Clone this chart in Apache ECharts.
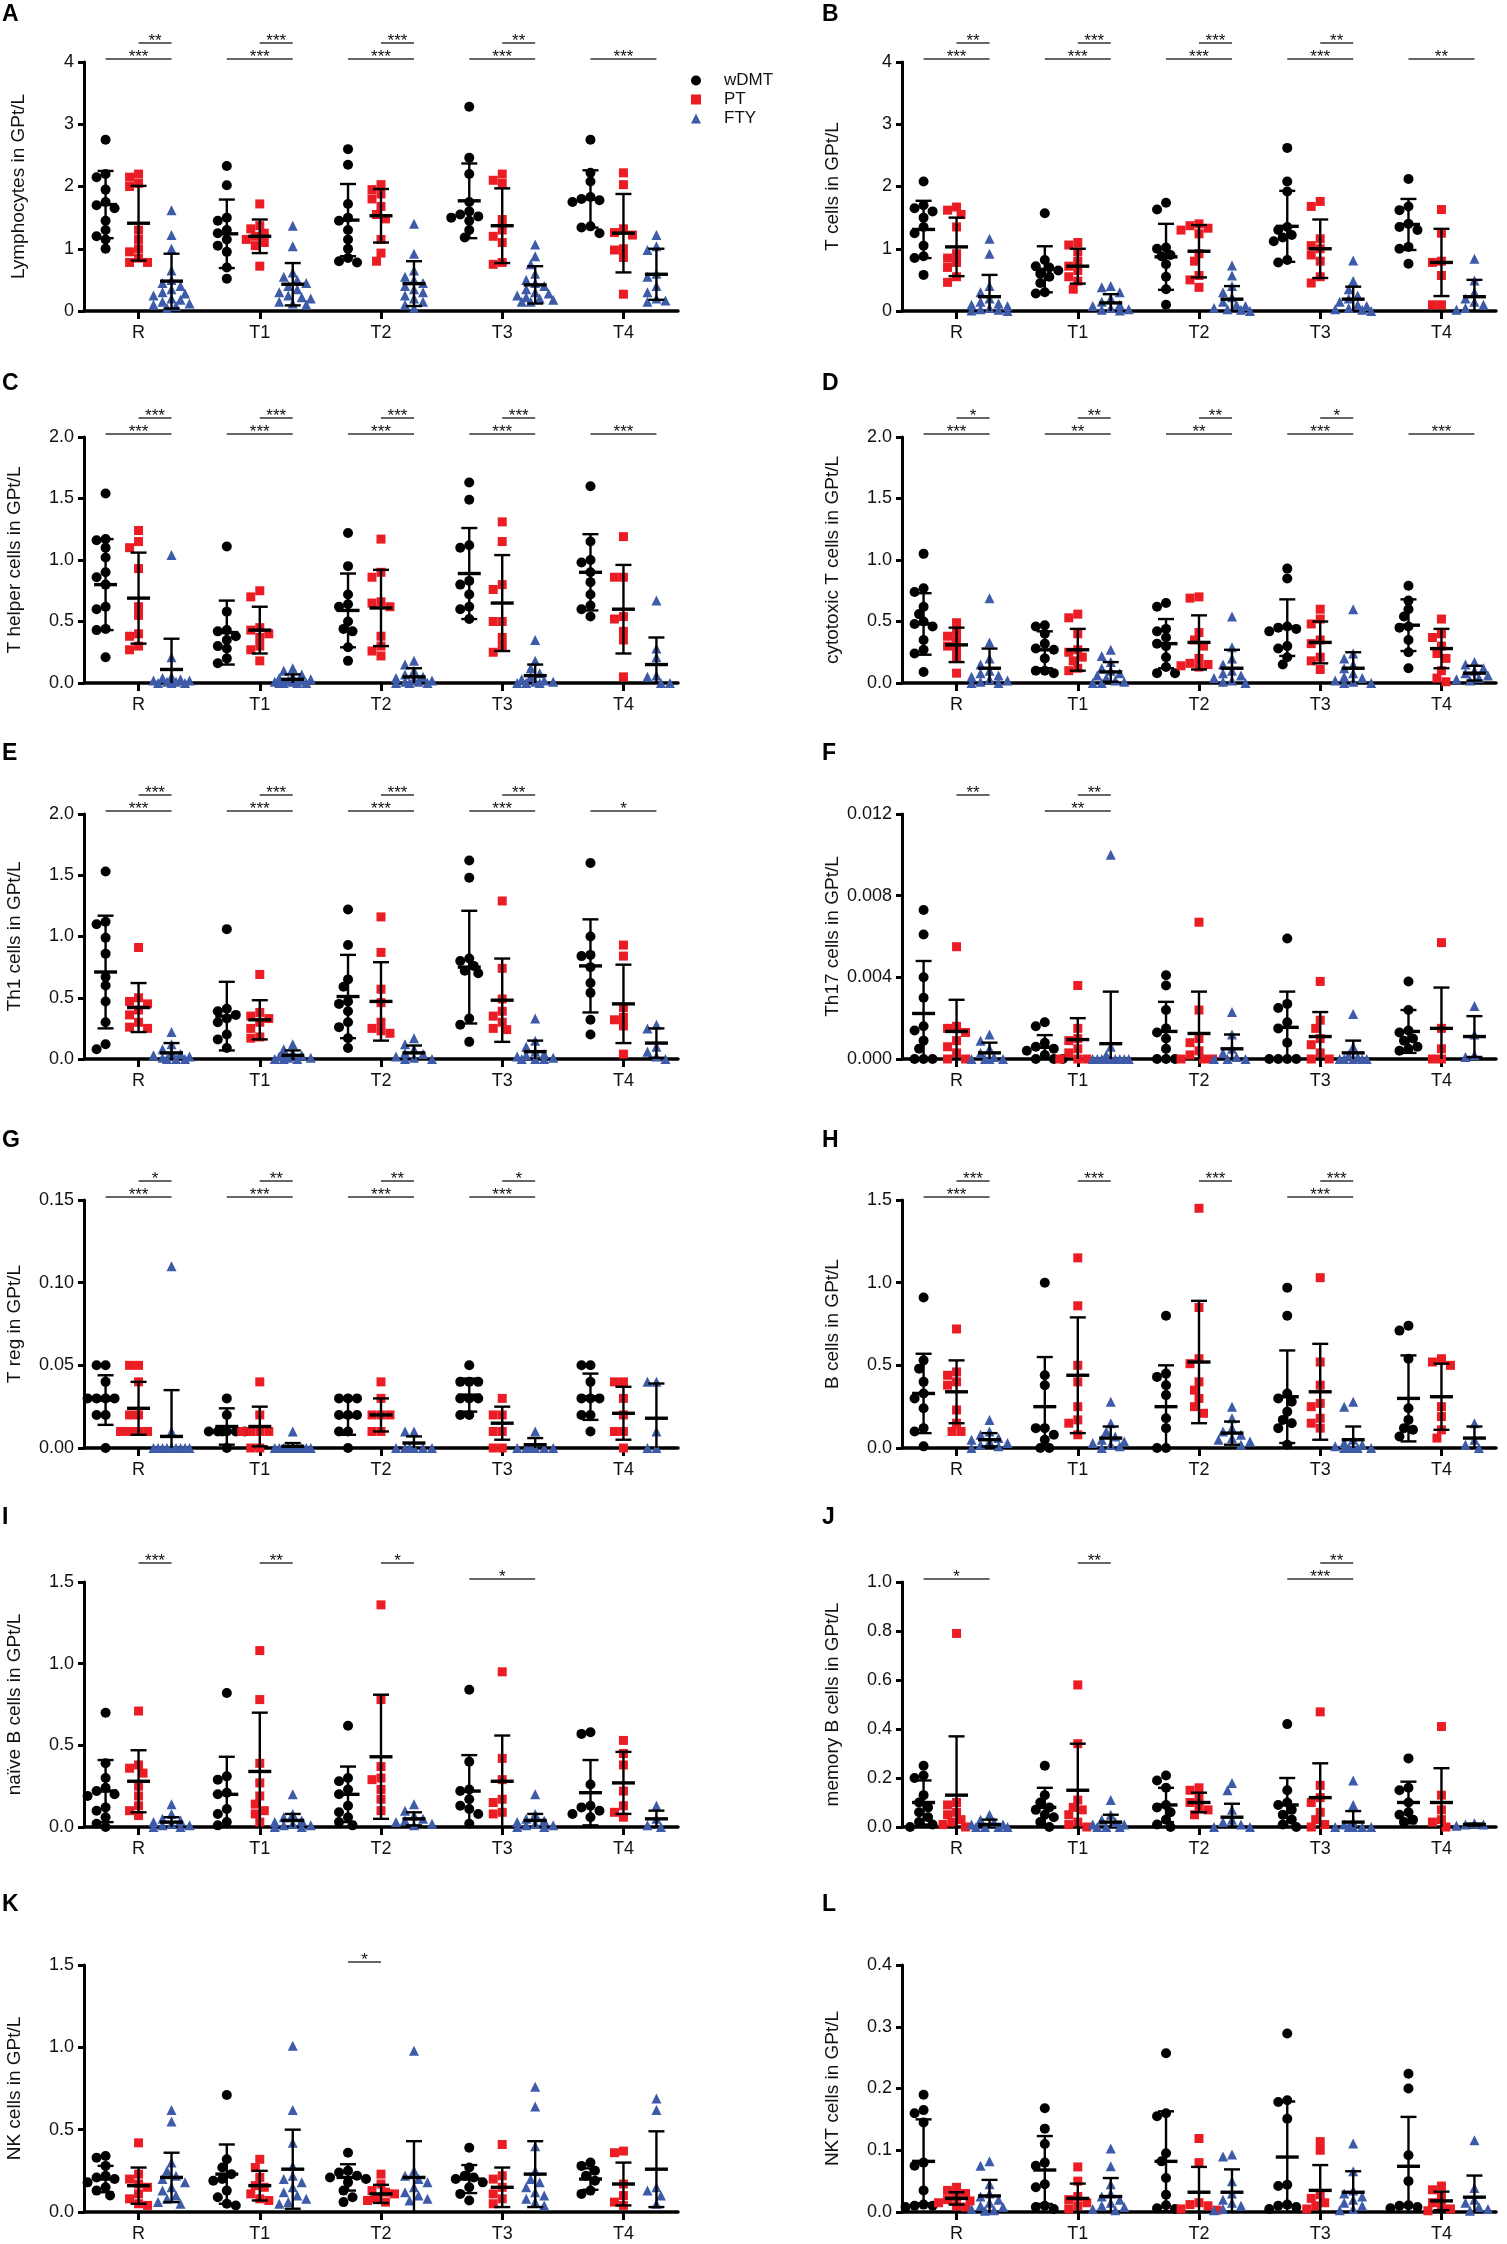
<!DOCTYPE html>
<html lang="en">
<head>
<meta charset="UTF-8">
<title>Lymphocyte subsets</title>
<script src="https://cdn.jsdelivr.net/npm/echarts@6/dist/echarts.min.js"></script>
<style>
  html, body { margin: 0; padding: 0; background: #fff; }
  #chart { width: 1507px; height: 2244px; }
</style>
</head>
<body>
<div id="chart"></div>
<script>
var categories = ['R', 'T1', 'T2', 'T3', 'T4'];
var groups = ['wDMT', 'PT', 'FTY'];

// points per panel: [group][category] -> values
// sig rows: [category, fromGroup, toGroup, level(0 low / 1 high), stars]
var ptsA = [
  [[2.75,2.2,2.15,1.95,1.75,1.7,1.65,1.45,1.3,1.2,1.15,1.0],[2.33,2.02,1.5,1.45,1.3,1.25,1.15,1.05,0.95,0.7,0.52],[2.6,2.35,1.72,1.5,1.45,1.3,1.15,1.0,0.85,0.8,0.78],[3.28,2.46,2.2,1.75,1.6,1.55,1.52,1.5,1.45,1.3,1.18],[2.75,2.22,2.08,1.83,1.8,1.78,1.75,1.36,1.34,1.25]],
  [[2.2,2.15,2.05,2.0,1.3,1.15,1.0,0.95,0.85,0.78,0.78],[1.72,1.37,1.32,1.25,1.2,1.15,1.1,1.05,0.72],[2.03,1.95,1.88,1.8,1.68,1.55,1.48,1.15,0.93,0.8],[2.2,2.1,2.05,1.47,1.3,1.2,1.1,0.78,0.75],[2.22,2.03,1.32,1.26,1.22,1.0,0.98,0.86,0.27]],
  [[1.62,1.22,1.0,0.65,0.5,0.45,0.4,0.35,0.3,0.28,0.25,0.2,0.18,0.15,0.12,0.1,0.08,0.05],[1.37,1.04,0.62,0.55,0.5,0.45,0.4,0.35,0.3,0.25,0.22,0.2,0.15,0.12,0.1],[1.4,0.92,0.65,0.55,0.5,0.45,0.4,0.35,0.3,0.25,0.2,0.15,0.1,0.05],[1.07,0.88,0.75,0.6,0.5,0.45,0.4,0.35,0.3,0.28,0.25,0.22,0.2,0.18,0.15,0.15],[1.22,1.04,0.98,0.6,0.55,0.4,0.3,0.2,0.17,0.15]]
];
var meanA = [[1.71,1.24,1.46,1.77,1.8],[1.41,1.2,1.53,1.37,1.25],[0.48,0.43,0.44,0.42,0.59]];
var sdA = [[0.54,0.55,0.58,0.6,0.46],[0.6,0.27,0.43,0.6,0.63],[0.44,0.34,0.36,0.3,0.41]];
var sigA = [[0,0,2,0,'***'],[0,1,2,1,'**'],[1,0,2,0,'***'],[1,1,2,1,'***'],[2,0,2,0,'***'],[2,1,2,1,'***'],[3,0,2,0,'***'],[3,1,2,1,'**'],[4,0,2,0,'***']];

var ptsB = [
  [[2.08,1.7,1.65,1.6,1.5,1.35,1.25,1.05,0.88,0.85,0.58],[1.57,0.82,0.72,0.7,0.65,0.6,0.55,0.45,0.3,0.28],[1.74,1.63,1.02,1.0,0.9,0.88,0.75,0.55,0.35,0.1],[2.62,2.08,1.92,1.35,1.3,1.22,1.18,1.12,0.82,0.78],[2.12,1.68,1.62,1.4,1.35,1.3,1.03,1.0,0.76]],
  [[1.67,1.62,1.55,1.35,0.92,0.85,0.78,0.7,0.55,0.46],[1.1,1.06,0.95,0.8,0.72,0.65,0.55,0.48,0.35],[1.4,1.37,1.33,1.3,1.24,0.92,0.8,0.57,0.5,0.38],[1.76,1.68,1.16,1.05,1.0,0.9,0.8,0.55,0.45],[1.63,1.25,0.8,0.78,0.57,0.1,0.1]],
  [[1.16,0.92,0.4,0.3,0.2,0.15,0.12,0.1,0.08,0.05,0.03,0.02,0.01,0.0],[0.4,0.38,0.3,0.2,0.15,0.1,0.08,0.05,0.03,0.02,0.01],[0.73,0.57,0.4,0.3,0.22,0.15,0.1,0.08,0.05,0.03,0.02,0.0],[0.81,0.48,0.35,0.25,0.2,0.15,0.1,0.08,0.05,0.03,0.02,0.0],[0.84,0.49,0.3,0.2,0.15,0.1,0.05,0.02]]
];
var meanB = [[1.31,0.67,0.87,1.36,1.39],[1.03,0.72,0.96,1.0,0.78],[0.23,0.13,0.19,0.19,0.23]];
var sdB = [[0.46,0.37,0.53,0.57,0.41],[0.47,0.28,0.42,0.47,0.54],[0.35,0.14,0.21,0.2,0.27]];
var sigB = [[0,0,2,0,'***'],[0,1,2,1,'**'],[1,0,2,0,'***'],[1,1,2,1,'***'],[2,0,2,0,'***'],[2,1,2,1,'***'],[3,0,2,0,'***'],[3,1,2,1,'**'],[4,0,2,0,'**']];

var ptsC = [
  [[1.54,1.17,1.16,1.1,1.02,0.9,0.86,0.8,0.62,0.6,0.44,0.43,0.21],[1.11,0.58,0.43,0.42,0.38,0.35,0.3,0.28,0.2,0.16],[1.22,0.95,0.72,0.64,0.62,0.5,0.44,0.42,0.29,0.18],[1.63,1.49,1.12,1.1,0.83,0.8,0.72,0.62,0.6,0.52],[1.6,1.15,1.0,0.98,0.9,0.82,0.72,0.63,0.6,0.54]],
  [[1.24,1.15,1.1,0.93,0.62,0.55,0.4,0.38,0.3,0.27],[0.75,0.7,0.45,0.43,0.4,0.37,0.3,0.27,0.18],[1.17,0.9,0.86,0.66,0.65,0.62,0.38,0.3,0.26,0.22],[1.31,1.15,0.8,0.76,0.5,0.5,0.37,0.3,0.25],[1.19,0.86,0.86,0.54,0.52,0.42,0.35,0.05]],
  [[1.04,0.21,0.05,0.04,0.03,0.02,0.02,0.01,0.01,0,0,0],[0.12,0.1,0.07,0.05,0.04,0.03,0.02,0.02,0.01,0.01,0,0,0,0],[0.18,0.15,0.1,0.07,0.05,0.04,0.03,0.02,0.01,0.01,0,0,0],[0.35,0.18,0.12,0.08,0.05,0.03,0.02,0.01,0.01,0,0,0],[0.67,0.28,0.21,0.06,0.05,0,0]]
];
var meanC = [[0.8,0.41,0.59,0.89,0.9],[0.69,0.43,0.61,0.65,0.6],[0.11,0.03,0.05,0.06,0.15]];
var sdC = [[0.37,0.26,0.3,0.37,0.31],[0.37,0.19,0.31,0.39,0.36],[0.25,0.04,0.07,0.09,0.22]];
var sigC = [[0,0,2,0,'***'],[0,1,2,1,'***'],[1,0,2,0,'***'],[1,1,2,1,'***'],[2,0,2,0,'***'],[2,1,2,1,'***'],[3,0,2,0,'***'],[3,1,2,1,'***'],[4,0,2,0,'***']];

var ptsD = [
  [[1.05,0.77,0.74,0.62,0.56,0.5,0.48,0.46,0.35,0.27,0.24,0.09],[0.47,0.46,0.4,0.32,0.28,0.27,0.2,0.1,0.1,0.08],[0.65,0.62,0.44,0.42,0.37,0.32,0.3,0.21,0.13,0.08,0.08],[0.93,0.85,0.46,0.45,0.44,0.42,0.3,0.28,0.21,0.15],[0.79,0.67,0.6,0.54,0.46,0.45,0.35,0.25,0.12]],
  [[0.49,0.42,0.38,0.35,0.3,0.27,0.2,0.08],[0.56,0.53,0.4,0.27,0.25,0.21,0.18,0.12,0.1],[0.7,0.69,0.41,0.35,0.3,0.2,0.16,0.15,0.14,0.13],[0.6,0.52,0.48,0.35,0.32,0.21,0.18,0.11],[0.52,0.4,0.37,0.3,0.24,0.2,0.1,0.04,0.01]],
  [[0.69,0.33,0.2,0.15,0.1,0.08,0.06,0.05,0.03,0.02,0.01,0,0],[0.27,0.22,0.17,0.12,0.1,0.08,0.06,0.04,0.02,0.01,0,0],[0.54,0.29,0.2,0.15,0.1,0.08,0.06,0.04,0.02,0.01,0],[0.6,0.24,0.2,0.15,0.12,0.08,0.05,0.04,0.02,0.01,0,0],[0.17,0.15,0.12,0.1,0.08,0.06,0.04,0.03,0.02]]
];
var meanD = [[0.48,0.27,0.32,0.45,0.47],[0.31,0.27,0.33,0.33,0.28],[0.12,0.09,0.12,0.12,0.08]];
var sdD = [[0.25,0.15,0.2,0.23,0.21],[0.14,0.17,0.22,0.17,0.16],[0.16,0.08,0.15,0.13,0.06]];
var sigD = [[0,0,2,0,'***'],[0,1,2,1,'*'],[1,0,2,0,'**'],[1,1,2,1,'**'],[2,0,2,0,'**'],[2,1,2,1,'**'],[3,0,2,0,'***'],[3,1,2,1,'*'],[4,0,2,0,'***']];

var ptsE = [
  [[1.53,1.12,1.1,0.99,0.86,0.67,0.6,0.47,0.3,0.12,0.08],[1.06,0.41,0.39,0.36,0.33,0.3,0.2,0.16,0.09],[1.22,0.93,0.65,0.59,0.47,0.45,0.39,0.3,0.26,0.17,0.09],[1.62,1.48,0.82,0.8,0.76,0.72,0.7,0.33,0.28,0.14],[1.6,1.0,0.85,0.84,0.75,0.62,0.54,0.32,0.2]],
  [[0.91,0.5,0.47,0.45,0.4,0.36,0.3,0.26,0.25],[0.69,0.38,0.35,0.33,0.3,0.25,0.18,0.17],[1.16,0.87,0.57,0.46,0.3,0.25,0.23,0.21],[1.29,0.74,0.49,0.39,0.35,0.3,0.25,0.24],[0.93,0.84,0.42,0.34,0.32,0.27,0.04]],
  [[0.22,0.12,0.08,0.05,0.04,0.03,0.02,0.01,0,0,0],[0.12,0.08,0.05,0.03,0.02,0.01,0.01,0,0,0],[0.17,0.12,0.08,0.05,0.04,0.02,0.01,0,0],[0.33,0.15,0.1,0.06,0.04,0.03,0.02,0.01,0,0,0],[0.28,0.25,0.1,0.06,0.02,0]]
];
var meanE = [[0.71,0.35,0.51,0.75,0.76],[0.42,0.32,0.47,0.48,0.45],[0.05,0.03,0.05,0.06,0.13]];
var sdE = [[0.46,0.28,0.34,0.46,0.38],[0.2,0.16,0.32,0.34,0.32],[0.08,0.04,0.06,0.09,0.12]];
var sigE = [[0,0,2,0,'***'],[0,1,2,1,'***'],[1,0,2,0,'***'],[1,1,2,1,'***'],[2,0,2,0,'***'],[2,1,2,1,'***'],[3,0,2,0,'***'],[3,1,2,1,'**'],[4,0,2,0,'*']];

var ptsF = [
  [[0.0073,0.0061,0.004,0.003,0.0016,0.0014,0.0009,0.0005,0,0,0],[0.0018,0.0016,0.0008,0.0006,0.0005,0.0004,0.0002,0,0,0],[0.0041,0.0036,0.0024,0.0015,0.0013,0.001,0.0005,0,0,0],[0.0059,0.0027,0.0025,0.0018,0.0015,0.0008,0,0,0,0],[0.0038,0.0024,0.0014,0.0013,0.001,0.0009,0.0006,0.0005,0.0004]],
  [[0.0055,0.0016,0.0015,0.0013,0.0009,0.0006,0.0003,0,0],[0.0036,0.0015,0.001,0.0009,0.0005,0.0003,0,0,0],[0.0067,0.0024,0.001,0.0008,0.0004,0.0002,0,0,0],[0.0038,0.0019,0.0015,0.001,0.0007,0.0003,0,0],[0.0057,0.0015,0.0005,0,0]],
  [[0.0012,0.0009,0.0005,0.0003,0.0001,0,0,0,0],[0.01,0.0006,0.0002,0,0,0,0,0,0,0,0,0,0],[0.0023,0.0012,0.0005,0.0003,0.0001,0,0,0],[0.0022,0.0006,0.0002,0.0001,0,0,0,0,0],[0.0026,0.0012,0.0002,0.0001]]
];
var meanF = [[0.00223,0.00057,0.00135,0.00155,0.00135],[0.00135,0.00095,0.00125,0.0011,0.0015],[0.0003,0.00075,0.0005,0.0003,0.0011]];
var sdF = [[0.00257,0.0006,0.00145,0.00175,0.00105],[0.00155,0.00105,0.00205,0.0012,0.002],[0.0005,0.00255,0.0007,0.0006,0.001]];
var sigF = [[0,1,2,1,'**'],[1,0,2,0,'**'],[1,1,2,1,'**']];

var ptsG = [
  [[0.05,0.05,0.04,0.03,0.03,0.03,0.03,0.02,0.02,0],[0.03,0.02,0.01,0.01,0.01,0.01,0.01,0.01,0],[0.03,0.03,0.03,0.02,0.02,0.02,0.01,0.01,0],[0.05,0.04,0.04,0.04,0.03,0.03,0.03,0.02,0.02],[0.05,0.05,0.04,0.03,0.03,0.03,0.02,0.02,0.01]],
  [[0.05,0.05,0.04,0.02,0.02,0.01,0.01,0.01,0.01],[0.04,0.02,0.01,0.01,0.01,0.01,0,0],[0.04,0.03,0.02,0.02,0.02,0.01,0.01],[0.03,0.02,0.02,0.01,0.01,0,0],[0.04,0.04,0.03,0.02,0.01,0.01,0]],
  [[0.11,0.01,0,0,0,0,0,0,0,0,0,0,0,0,0,0],[0.01,0,0,0,0,0,0,0,0,0],[0.01,0.01,0,0,0,0,0,0],[0.01,0,0,0,0,0,0],[0.04,0.04,0.01,0,0]]
];
var meanG = [[0.029,0.013,0.019,0.032,0.031],[0.024,0.013,0.02,0.015,0.021],[0.007,0.001,0.003,0.002,0.018]];
var sdG = [[0.015,0.011,0.011,0.01,0.014],[0.016,0.012,0.01,0.01,0.016],[0.028,0.002,0.004,0.004,0.021]];
var sigG = [[0,0,2,0,'***'],[0,1,2,1,'*'],[1,0,2,0,'***'],[1,1,2,1,'**'],[2,0,2,0,'***'],[2,1,2,1,'**'],[3,0,2,0,'***'],[3,1,2,1,'*']];

var ptsH = [
  [[0.91,0.53,0.48,0.4,0.33,0.3,0.24,0.12,0.1,0.01],[1.0,0.44,0.38,0.12,0.12,0.08,0.05,0,0],[0.8,0.45,0.43,0.38,0.32,0.18,0.12,0,0],[0.97,0.8,0.33,0.3,0.28,0.22,0.17,0.15,0.12,0.02],[0.74,0.71,0.54,0.24,0.17,0.12,0.11,0.07]],
  [[0.72,0.46,0.44,0.4,0.38,0.23,0.15,0.1,0.1],[1.15,0.86,0.5,0.4,0.25,0.17,0.15,0.08],[1.45,0.85,0.54,0.51,0.4,0.35,0.3,0.25,0.21],[1.03,0.52,0.38,0.27,0.25,0.18,0.15,0.12],[0.54,0.52,0.5,0.25,0.19,0.11,0.06]],
  [[0.17,0.1,0.08,0.06,0.05,0.04,0.03,0.02,0.01,0],[0.28,0.15,0.1,0.07,0.05,0.04,0.03,0.02,0.01,0],[0.25,0.18,0.12,0.1,0.08,0.06,0.05,0.04,0.02],[0.28,0.25,0.05,0.03,0.02,0.01,0,0,0,0,0],[0.15,0.05,0.02,0]]
];
var meanH = [[0.33,0.25,0.25,0.31,0.3],[0.34,0.44,0.52,0.34,0.31],[0.05,0.06,0.09,0.05,0.06]];
var sdH = [[0.24,0.3,0.25,0.28,0.26],[0.19,0.35,0.37,0.29,0.2],[0.04,0.07,0.07,0.08,0.07]];
var sigH = [[0,0,2,0,'***'],[0,1,2,1,'***'],[1,1,2,1,'***'],[2,1,2,1,'***'],[3,0,2,0,'***'],[3,1,2,1,'***']];

var ptsI = [
  [[0.7,0.39,0.3,0.24,0.22,0.2,0.19,0.12,0.1,0.06,0.02,0],[0.82,0.31,0.29,0.21,0.2,0.11,0.08,0.03,0.01],[0.62,0.3,0.28,0.23,0.2,0.13,0.09,0.06,0.03,0.01],[0.84,0.4,0.23,0.22,0.17,0.13,0.11,0.08,0.02],[0.58,0.57,0.26,0.13,0.12,0.1,0.08,0.06]],
  [[0.71,0.38,0.36,0.33,0.25,0.19,0.13,0.1,0.07],[1.08,0.78,0.39,0.27,0.19,0.14,0.1,0.08,0.03],[1.36,0.78,0.37,0.3,0.29,0.23,0.17,0.1],[0.95,0.42,0.29,0.17,0.15,0.09,0.08],[0.53,0.45,0.38,0.22,0.13,0.09,0.06]],
  [[0.14,0.08,0.05,0.04,0.03,0.02,0.01,0.01,0,0],[0.2,0.08,0.06,0.04,0.03,0.02,0.01,0.01,0,0],[0.14,0.1,0.07,0.05,0.04,0.03,0.02,0.01],[0.2,0.08,0.05,0.04,0.03,0.02,0.01,0.01,0,0],[0.13,0.05,0.01,0]]
];
var meanI = [[0.22,0.2,0.2,0.22,0.21],[0.28,0.34,0.43,0.28,0.27],[0.03,0.04,0.05,0.04,0.05]];
var sdI = [[0.19,0.23,0.17,0.22,0.2],[0.19,0.36,0.38,0.28,0.19],[0.03,0.04,0.04,0.04,0.05]];
var sigI = [[0,1,2,1,'***'],[1,1,2,1,'**'],[2,1,2,1,'*'],[3,0,2,0,'*']];

var ptsJ = [
  [[0.25,0.21,0.2,0.13,0.1,0.08,0.06,0.04,0.02,0.01,0],[0.25,0.13,0.1,0.08,0.07,0.05,0.04,0.02,0],[0.21,0.19,0.16,0.09,0.08,0.06,0.03,0.01,0],[0.42,0.15,0.1,0.09,0.07,0.05,0.03,0.01,0],[0.28,0.16,0.15,0.1,0.06,0.05,0.03,0.02]],
  [[0.79,0.1,0.09,0.06,0.05,0.03,0.02,0.01,0],[0.58,0.34,0.11,0.08,0.07,0.05,0.02,0.01,0],[0.16,0.15,0.12,0.1,0.08,0.07,0.05],[0.47,0.17,0.12,0.1,0.06,0.03,0.01,0],[0.41,0.13,0.07,0.03,0.02,0]],
  [[0.05,0.03,0.02,0.01,0.01,0,0,0,0],[0.11,0.05,0.03,0.02,0.01,0.01,0,0,0],[0.18,0.15,0.07,0.03,0.02,0.01,0,0],[0.19,0.09,0.02,0.01,0,0,0,0,0],[0.015,0.01,0.01,0.005]]
];
var meanJ = [[0.1,0.08,0.09,0.09,0.1],[0.13,0.15,0.1,0.12,0.1],[0.01,0.02,0.04,0.02,0.01]];
var sdJ = [[0.09,0.08,0.07,0.11,0.085],[0.24,0.19,0.04,0.14,0.14],[0.02,0.03,0.055,0.045,0.004]];
var sigJ = [[0,0,2,0,'*'],[1,1,2,1,'**'],[3,0,2,0,'***'],[3,1,2,1,'**']];

var ptsK = [
  [[0.34,0.33,0.28,0.22,0.21,0.2,0.18,0.15,0.13,0.1],[0.71,0.32,0.27,0.23,0.2,0.19,0.13,0.09,0.05,0.04],[0.36,0.25,0.24,0.22,0.21,0.2,0.18,0.13,0.09,0.06],[0.39,0.27,0.22,0.21,0.2,0.18,0.15,0.11,0.07],[0.3,0.28,0.25,0.22,0.19,0.13,0.11]],
  [[0.42,0.23,0.2,0.17,0.15,0.11,0.08,0.05,0.04],[0.32,0.27,0.21,0.16,0.15,0.11,0.08,0.07],[0.23,0.17,0.13,0.12,0.11,0.08,0.07,0.06],[0.41,0.22,0.2,0.15,0.11,0.08,0.05],[0.37,0.36,0.17,0.1,0.06,0.04]],
  [[0.62,0.55,0.3,0.25,0.22,0.2,0.18,0.15,0.13,0.1,0.08,0.06,0.05],[1.01,0.62,0.42,0.28,0.22,0.2,0.18,0.15,0.12,0.1,0.08,0.06,0.05],[0.98,0.25,0.22,0.2,0.18,0.15,0.12,0.1,0.08,0.07],[0.76,0.64,0.4,0.25,0.2,0.18,0.15,0.12,0.1,0.08,0.06,0.04],[0.69,0.62,0.15,0.13,0.1,0.05]]
];
var meanK = [[0.2,0.23,0.21,0.2,0.2],[0.16,0.16,0.11,0.15,0.17],[0.21,0.26,0.21,0.23,0.26]];
var sdK = [[0.08,0.18,0.08,0.085,0.065],[0.11,0.09,0.055,0.12,0.13],[0.15,0.24,0.22,0.2,0.23]];
var sigK = [[2,0,1,0,'*']];

var ptsL = [
  [[0.19,0.165,0.16,0.145,0.08,0.075,0.035,0.012,0.01,0.01,0.008],[0.168,0.135,0.11,0.08,0.075,0.045,0.04,0.01,0.008,0.005],[0.257,0.16,0.155,0.095,0.082,0.055,0.028,0.011,0.006,0.005],[0.289,0.181,0.178,0.151,0.044,0.042,0.012,0.01,0.008,0.005],[0.224,0.2,0.092,0.05,0.011,0.01,0.008,0.006]],
  [[0.04,0.035,0.03,0.025,0.02,0.018,0.015,0.01,0.008],[0.073,0.05,0.025,0.02,0.015,0.01,0.005],[0.119,0.08,0.015,0.012,0.01,0.005,0.003],[0.114,0.1,0.028,0.022,0.015,0.01,0.005],[0.042,0.036,0.025,0.015,0.01,0.005,0.002]],
  [[0.082,0.075,0.045,0.03,0.025,0.02,0.015,0.01,0.008,0.005,0.003,0.002],[0.103,0.074,0.045,0.03,0.025,0.02,0.015,0.01,0.008,0.005,0.003],[0.093,0.09,0.05,0.03,0.02,0.015,0.01,0.005,0.003],[0.111,0.066,0.035,0.03,0.025,0.02,0.015,0.01,0.005,0.003],[0.116,0.039,0.02,0.015,0.008,0.005,0.002]]
];
var meanL = [[0.082,0.068,0.082,0.089,0.074],[0.022,0.022,0.032,0.035,0.018],[0.026,0.025,0.032,0.032,0.024]];
var sdL = [[0.068,0.055,0.081,0.09,0.08],[0.01,0.024,0.041,0.041,0.015],[0.026,0.03,0.037,0.034,0.035]];
var sigL = [];

var panels = [
  {letter: 'A', title: 'Lymphocytes in GPt/L', max: 4, step: 1, dec: 0, pts: ptsA, mean: meanA, sd: sdA, sig: sigA},
  {letter: 'B', title: 'T cells in GPt/L', max: 4, step: 1, dec: 0, pts: ptsB, mean: meanB, sd: sdB, sig: sigB},
  {letter: 'C', title: 'T helper cells in GPt/L', max: 2, step: 0.5, dec: 1, pts: ptsC, mean: meanC, sd: sdC, sig: sigC},
  {letter: 'D', title: 'cytotoxic T cells in GPt/L', max: 2, step: 0.5, dec: 1, pts: ptsD, mean: meanD, sd: sdD, sig: sigD},
  {letter: 'E', title: 'Th1 cells in GPt/L', max: 2, step: 0.5, dec: 1, pts: ptsE, mean: meanE, sd: sdE, sig: sigE},
  {letter: 'F', title: 'Th17 cells in GPt/L', max: 0.012, step: 0.004, dec: 3, pts: ptsF, mean: meanF, sd: sdF, sig: sigF},
  {letter: 'G', title: 'T reg in GPt/L', max: 0.15, step: 0.05, dec: 2, pts: ptsG, mean: meanG, sd: sdG, sig: sigG},
  {letter: 'H', title: 'B cells in GPt/L', max: 1.5, step: 0.5, dec: 1, pts: ptsH, mean: meanH, sd: sdH, sig: sigH},
  {letter: 'I', title: 'naïve B cells in GPt/L', max: 1.5, step: 0.5, dec: 1, pts: ptsI, mean: meanI, sd: sdI, sig: sigI},
  {letter: 'J', title: 'memory B cells in GPt/L', max: 1.0, step: 0.2, dec: 1, pts: ptsJ, mean: meanJ, sd: sdJ, sig: sigJ},
  {letter: 'K', title: 'NK cells in GPt/L', max: 1.5, step: 0.5, dec: 1, pts: ptsK, mean: meanK, sd: sdK, sig: sigK},
  {letter: 'L', title: 'NKT cells in GPt/L', max: 0.4, step: 0.1, dec: 1, pts: ptsL, mean: meanL, sd: sdL, sig: sigL}
];

// layout
var FONT = "'Liberation Sans', Arial, Helvetica, sans-serif";
var colLeft = [84, 902];
var plotW = 594;
var rowTop = [62, 437, 814, 1200, 1582, 1965];
var rowH = [249, 246, 245, 248, 245, 247];
var letterTop = [3, 372, 742, 1129, 1506, 1893];
var letterLeft = [2, 822];
var xMin = -0.45, xMax = 4.45;
var groupOff = [-0.272, 0, 0.272];
var colors = ['#000000', '#ec1c24', '#3d5ba8'];
var symbols = ['circle', 'rect', 'triangle'];
var symSize = [10, 9, 10];

// simple beeswarm so overlapping dots spread sideways like the original
function swarm(vals, pxPerVal) {
  var diam = 8.5, step = 4.5, maxK = 9;
  var order = vals.map(function (v, i) { return i; }).sort(function (a, b) { return vals[b] - vals[a]; });
  var placed = [], offs = [];
  order.forEach(function (i) {
    var y = vals[i] * pxPerVal, best = 0, bestD = -1;
    for (var k = 0; k < maxK; k++) {
      var o = k === 0 ? 0 : (k % 2 ? -1 : 1) * Math.ceil(k / 2) * step;
      var dmin = Infinity;
      placed.forEach(function (p) { dmin = Math.min(dmin, Math.hypot(p.o - o, p.y - y)); });
      if (dmin >= diam) { best = o; bestD = Infinity; break; }
      if (dmin > bestD) { bestD = dmin; best = o; }
    }
    offs[i] = best;
    placed.push({o: best, y: y});
  });
  return offs;
}

var option = {
  animation: false,
  backgroundColor: '#fff',
  grid: [], xAxis: [], yAxis: [], series: [], graphic: [],
  legend: {
    data: groups, orient: 'vertical', left: 686, top: 67,
    itemWidth: 10, itemHeight: 10, itemGap: 2, selectedMode: false,
    textStyle: {fontSize: 17, fontFamily: FONT, color: '#111', lineHeight: 17, padding: [0, 0, 0, 18]}
  }
};

panels.forEach(function (p, i) {
  var col = i % 2, row = Math.floor(i / 2);
  var pxPerVal = rowH[row] / p.max;
  var pxPerX = plotW / (xMax - xMin);

  option.grid.push({left: colLeft[col], top: rowTop[row], width: plotW, height: rowH[row], outerBoundsMode: 'none'});

  option.xAxis.push({
    gridIndex: i, type: 'value', min: xMin, max: xMax,
    splitLine: {show: false},
    axisLine: {show: true, onZero: false, lineStyle: {color: '#000', width: 3.5}},
    axisTick: {show: true, length: 8, customValues: [0, 1, 2, 3, 4], lineStyle: {color: '#000', width: 3}},
    axisLabel: {
      customValues: [0, 1, 2, 3, 4], margin: 13, fontSize: 18, fontFamily: FONT, color: '#111',
      formatter: function (v) { return categories[Math.round(v)]; }
    }
  });

  option.yAxis.push({
    gridIndex: i, type: 'value', min: 0, max: p.max, interval: p.step,
    name: p.title, nameLocation: 'middle', nameGap: (i === 0 ? 56 : 60), nameMoveOverlap: false,
    nameTextStyle: {fontSize: 19, fontFamily: FONT, color: '#111'},
    splitLine: {show: false},
    axisLine: {show: true, onZero: false, lineStyle: {color: '#000', width: 3}},
    axisTick: {show: true, length: 6, lineStyle: {color: '#000', width: 3}},
    axisLabel: {
      margin: 10, fontSize: 18, fontFamily: FONT, color: '#111',
      formatter: function (v) { return v.toFixed(p.dec); }
    }
  });

  // dots
  groups.forEach(function (g, gi) {
    var data = [];
    p.pts[gi].forEach(function (vals, c) {
      var offs = swarm(vals, pxPerVal);
      vals.forEach(function (v, k) {
        data.push([c + groupOff[gi] + offs[k] / pxPerX, v]);
      });
    });
    option.series.push({
      name: g, type: 'scatter', xAxisIndex: i, yAxisIndex: i, clip: false, silent: true, z: 2,
      symbol: symbols[gi], symbolSize: symSize[gi],
      itemStyle: {color: colors[gi], opacity: 1},
      data: data
    });
  });

  // mean +/- SD bars
  var barData = [];
  groups.forEach(function (g, gi) {
    categories.forEach(function (cat, c) {
      barData.push([c + groupOff[gi], p.mean[gi][c], p.sd[gi][c]]);
    });
  });
  option.series.push({
    type: 'custom', xAxisIndex: i, yAxisIndex: i, silent: true, z: 4, clip: false,
    data: barData,
    renderItem: function (params, api) {
      var x = api.value(0), m = api.value(1), s = api.value(2);
      var lo = Math.max(0, m - s);
      var top = api.coord([x, m + s]), mid = api.coord([x, m]), bot = api.coord([x, lo]);
      var st = {stroke: '#000', lineWidth: 2.4};
      var kids = [
        {type: 'line', shape: {x1: mid[0], y1: top[1], x2: mid[0], y2: bot[1]}, style: st},
        {type: 'line', shape: {x1: mid[0] - 8, y1: top[1], x2: mid[0] + 8, y2: top[1]}, style: st},
        {type: 'line', shape: {x1: mid[0] - 11.5, y1: mid[1], x2: mid[0] + 11.5, y2: mid[1]}, style: {stroke: '#000', lineWidth: 3.4}}
      ];
      if (m - s > 0) {
        kids.push({type: 'line', shape: {x1: mid[0] - 8, y1: bot[1], x2: mid[0] + 8, y2: bot[1]}, style: st});
      }
      return {type: 'group', children: kids};
    }
  });

  // significance brackets
  if (p.sig.length) {
    option.series.push({
      type: 'custom', xAxisIndex: i, yAxisIndex: i, silent: true, z: 4, clip: false,
      data: p.sig.map(function (s) { return [s[0], s[1], s[2], s[3]]; }),
      renderItem: function (params, api) {
        var s = p.sig[params.dataIndex];
        var a = api.coord([s[0] + groupOff[s[1]], p.max]);
        var b = api.coord([s[0] + groupOff[s[2]], p.max]);
        var y = a[1] - (s[3] ? 19 : 3);
        return {type: 'group', children: [
          {type: 'line', shape: {x1: a[0], y1: y, x2: b[0], y2: y}, style: {stroke: '#333', lineWidth: 1.6}},
          {type: 'text', x: (a[0] + b[0]) / 2, y: y - 2,
            style: {text: s[4], fill: '#111', font: '17px ' + FONT, textAlign: 'center', textVerticalAlign: 'middle'}}
        ]};
      }
    });
  }

  option.graphic.push({
    type: 'text', left: letterLeft[col], top: letterTop[row],
    style: {text: p.letter, fill: '#000', font: 'bold 23px ' + FONT}
  });
});

var chart = echarts.init(document.getElementById('chart'), null, {renderer: 'canvas'});
chart.setOption(option);
</script>
</body>
</html>
